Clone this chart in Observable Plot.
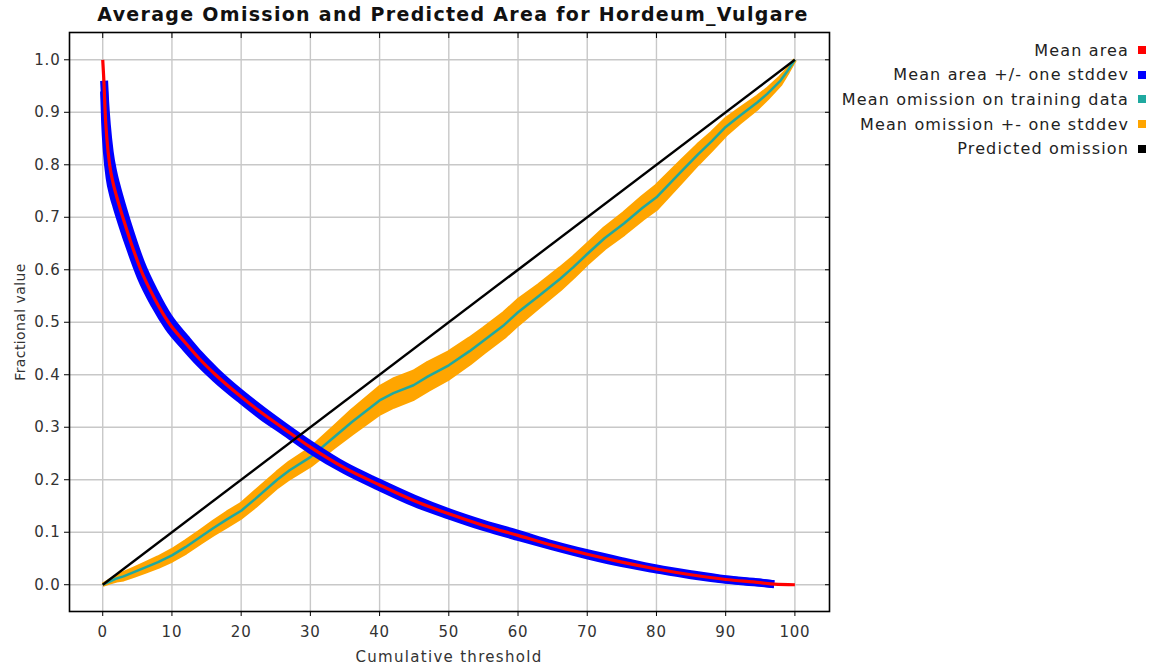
<!DOCTYPE html>
<html>
<head>
<meta charset="utf-8">
<script src="https://cdn.jsdelivr.net/npm/d3@7"></script>
<script src="https://cdn.jsdelivr.net/npm/@observablehq/plot@0.6"></script>
<style>
  html, body { margin: 0; padding: 0; background: #fff; }
  #wrap { position: relative; width: 1156px; height: 670px; font-family: "DejaVu Sans", sans-serif; }
  #title { position: absolute; left: 0; top: 3px; width: 906px; text-align: center; font-weight: bold; font-size: 19px; letter-spacing: 1.3px; color: #111; }
  #chart { position: absolute; left: 0; top: 0; }
  #xlabel { position: absolute; left: 0; width: 898px; top: 648px; text-align: center; font-size: 15px; letter-spacing: 1.3px; color: #333; }
  #ylabel { position: absolute; left: 20px; top: 322px; transform: translate(-50%, -50%) rotate(-90deg); white-space: nowrap; font-size: 14px; letter-spacing: 0.4px; color: #333; }
  #legend { position: absolute; right: 10px; top: 38px; font-size: 16px; letter-spacing: 1.15px; color: #222; }
  .row { display: flex; justify-content: flex-end; align-items: center; height: 24.6px; }
  .sw { display: inline-block; width: 8px; height: 8px; margin-left: 9px; }
  #chart svg g[aria-label="x-axis tick label"] text,
  #chart svg g[aria-label="y-axis tick label"] text { letter-spacing: 0.8px; }
</style>
</head>
<body>
<div id="wrap">
  <div id="chart"></div>
  <div id="title"></div>
  <div id="xlabel"></div>
  <div id="ylabel"></div>
  <div id="legend"></div>
</div>
<script>
// ---- data ----
const titleText = "Average Omission and Predicted Area for Hordeum_Vulgare";
const xLabel = "Cumulative threshold";
const yLabel = "Fractional value";
const xTicks = [0, 10, 20, 30, 40, 50, 60, 70, 80, 90, 100];
const yTicks = [0.0, 0.1, 0.2, 0.3, 0.4, 0.5, 0.6, 0.7, 0.8, 0.9, 1.0];

// mean fractional predicted area (+/- stddev)
const areaX    = [0,0.2,0.35,0.6,1,1.5,2,2.9,4,5.5,7.5,9.5,12,14,16.3,20,23,26.2,30,35,40,45,50,55,60,65,70,75,80,85,90,95,97,100];
const areaMean = [1.0,0.95,0.9,0.85,0.8,0.765,0.74,0.70,0.655,0.60,0.545,0.50,0.46,0.43,0.40,0.358,0.327,0.297,0.262,0.222,0.19,0.16,0.135,0.113,0.094,0.075,0.058,0.043,0.030,0.019,0.010,0.004,0.001,0.0];
const areaSd   = [0,0.01,0.02,0.025,0.025,0.022,0.02,0.018,0.016,0.014,0.012,0.01,0.009,0.008,0.007,0.006,0.006,0.005,0.005,0.004,0.004,0.004,0.003,0.003,0.003,0.002,0.002,0.002,0.001,0.001,0.0005,0.0003,0.0001,0];

// mean omission on training data (+/- stddev)
const omitX    = [0,1,2,3,4.5,6,8,10,12,14.1,16,18,20,22,25.2,27,30,33.4,36,40,42,44.9,47,50,53,55,58,60,63,66.1,68,70,72.5,75.3,78,80,83.5,86,88,90,92,94.6,96,97.9,99,100];
const omitMean = [0,0.006,0.012,0.016,0.024,0.032,0.043,0.056,0.072,0.091,0.108,0.125,0.141,0.163,0.20,0.218,0.243,0.281,0.31,0.351,0.365,0.38,0.397,0.418,0.445,0.465,0.495,0.519,0.55,0.583,0.605,0.63,0.66,0.688,0.718,0.738,0.786,0.82,0.845,0.872,0.893,0.919,0.935,0.96,0.98,1.0];
const omitSd   = [0,0.002,0.004,0.006,0.007,0.008,0.009,0.01,0.011,0.011,0.012,0.013,0.013,0.014,0.014,0.015,0.016,0.019,0.022,0.025,0.026,0.026,0.026,0.025,0.024,0.023,0.023,0.023,0.021,0.02,0.019,0.018,0.019,0.02,0.021,0.022,0.02,0.018,0.016,0.015,0.013,0.011,0.009,0.007,0.003,0];

// predicted omission
const predX = [0, 100];
const predY = [0, 1];

const legendNames  = ["Mean area", "Mean area +/- one stddev", "Mean omission on training data", "Mean omission +- one stddev", "Predicted omission"];
const legendColors = ["#ff0000", "#0000ff", "#1fa9a0", "#ffa500", "#000000"];

// ---- build tables ----
const area = areaX.map((x, i) => ({x, sd: areaSd[i], m: areaMean[i], lo: areaMean[i] - areaSd[i], hi: Math.min(1, areaMean[i] + areaSd[i])}));
const areaBand = area.filter(d => d.sd > 0);
const omit = omitX.map((x, i) => ({x, m: omitMean[i], lo: omitMean[i] - omitSd[i], hi: omitMean[i] + omitSd[i]}));
const pred = predX.map((x, i) => ({x, y: predY[i]}));

const [cRed, cBlue, cTeal, cOrange, cBlack] = legendColors;

const chart = Plot.plot({
  width: 835,
  height: 670,
  marginLeft: 69,
  marginRight: 6,
  marginTop: 32,
  marginBottom: 59,
  style: {background: "#fff", fontFamily: "DejaVu Sans, sans-serif", color: "#333"},
  x: {domain: [-4.8, 105], label: null},
  y: {domain: [-0.051, 1.052], label: null},
  marks: [
    Plot.gridX(xTicks, {stroke: "#c8c8c8", strokeOpacity: 1, strokeWidth: 1.4}),
    Plot.gridY(yTicks, {stroke: "#c8c8c8", strokeOpacity: 1, strokeWidth: 1.4}),
    Plot.areaY(omit, {x: "x", y1: "lo", y2: "hi", fill: cOrange, curve: "linear"}),
    Plot.line(omit, {x: "x", y: "lo", stroke: cOrange, strokeWidth: 4, strokeLinecap: "butt"}),
    Plot.line(omit, {x: "x", y: "hi", stroke: cOrange, strokeWidth: 4, strokeLinecap: "butt"}),
    Plot.line(omit, {x: "x", y: "m", stroke: cTeal, strokeWidth: 2.5, strokeLinecap: "butt"}),
    Plot.line(areaBand, {x: "x", y: "lo", stroke: cBlue, strokeWidth: 8, curve: "monotone-x", strokeLinecap: "butt"}),
    Plot.line(areaBand, {x: "x", y: "hi", stroke: cBlue, strokeWidth: 8, curve: "monotone-x", strokeLinecap: "butt"}),
    Plot.line(area, {x: "x", y: "m", stroke: cRed, strokeWidth: 3.2, curve: "monotone-x", strokeLinecap: "butt"}),
    Plot.line(pred, {x: "x", y: "y", stroke: cBlack, strokeWidth: 2.4, strokeLinecap: "butt"}),
    Plot.frame({stroke: "#000", strokeWidth: 1.6}),
    Plot.axisX(xTicks, {anchor: "bottom", tickSize: 5, tickPadding: 10, fontSize: 15, label: null, stroke: "#000"}),
    Plot.axisX(xTicks, {anchor: "top", tickSize: -5, text: null, label: null, stroke: "#000"}),
    Plot.axisY(yTicks, {anchor: "left", tickSize: 5, tickPadding: 4, fontSize: 15, tickFormat: d3.format(".1f"), label: null, stroke: "#000"}),
    Plot.axisY(yTicks, {anchor: "right", tickSize: -5, text: null, label: null, stroke: "#000"})
  ]
});
document.getElementById("chart").appendChild(chart);
document.getElementById("title").textContent = titleText;
document.getElementById("xlabel").textContent = xLabel;
document.getElementById("ylabel").textContent = yLabel;

const lg = document.getElementById("legend");
legendNames.forEach((name, i) => {
  const row = document.createElement("div");
  row.className = "row";
  const t = document.createElement("span");
  t.textContent = name;
  const s = document.createElement("span");
  s.className = "sw";
  s.style.background = legendColors[i];
  row.appendChild(t);
  row.appendChild(s);
  lg.appendChild(row);
});
</script>
</body>
</html>
